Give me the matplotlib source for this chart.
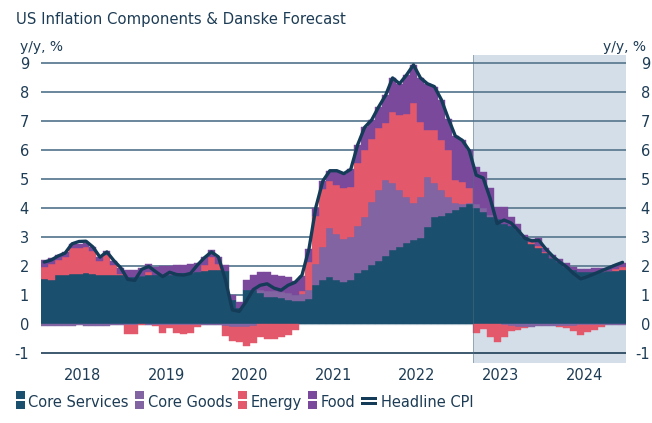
import numpy as np
import matplotlib
matplotlib.use('Agg')
import matplotlib.pyplot as plt
from matplotlib.patches import Rectangle

plt.rcParams['font.family'] = 'DejaVu Sans'
plt.rcParams['axes.unicode_minus'] = False

# monthly contributions, pp, Jan 2018 - Dec 2024 (forecast from Mar 2023)
years = ['2018', '2019', '2020', '2021', '2022', '2023', '2024']

core_services = [1.55, 1.53, 1.72, 1.72, 1.74, 1.75, 1.76, 1.74, 1.72, 1.70, 1.72, 1.72,
                 1.64, 1.64, 1.68, 1.70, 1.70, 1.70, 1.72, 1.74, 1.76, 1.78, 1.80, 1.84,
                 1.87, 1.87, 1.85, 0.85, 0.55, 1.18, 1.20, 1.10, 0.95, 0.95, 0.90, 0.85,
                 0.80, 0.82, 0.88, 1.36, 1.53, 1.64, 1.53, 1.48, 1.53, 1.76, 1.87, 2.04,
                 2.20, 2.35, 2.56, 2.68, 2.82, 2.91, 2.97, 3.37, 3.71, 3.75, 3.85, 3.94,
                 4.06, 4.15, 4.00, 3.88, 3.71, 3.62, 3.48, 3.39, 3.25, 3.00, 2.79, 2.62,
                 2.45, 2.28, 2.14, 1.99, 1.87, 1.81, 1.81, 1.81, 1.82, 1.83, 1.85, 1.87]

core_goods = [-0.06, -0.06, -0.06, -0.05, -0.04, -0.03, -0.04, -0.07, -0.06, -0.05, -0.03, -0.03,
              -0.02, -0.02, 0.00, -0.02, -0.02, -0.03, -0.02, -0.01, -0.02, -0.02, -0.03, -0.02,
              -0.03, -0.03, -0.05, -0.08, -0.10, -0.10, -0.05, 0.10, 0.20, 0.20, 0.22, 0.25,
              0.22, 0.22, 0.32, 0.74, 1.15, 1.67, 1.60, 1.47, 1.47, 1.64, 1.84, 2.19,
              2.43, 2.63, 2.30, 1.95, 1.58, 1.26, 1.43, 1.72, 1.15, 0.88, 0.55, 0.23,
              0.08, 0.05, 0.15, 0.12, 0.05, 0.00, -0.03, -0.05, -0.08, -0.08, -0.08, -0.07,
              -0.06, -0.05, -0.05, -0.04, -0.04, -0.03, -0.03, -0.03, -0.03, -0.02, -0.02, -0.02]

energy = [0.44, 0.55, 0.50, 0.62, 0.88, 0.90, 0.92, 0.78, 0.45, 0.68, 0.33, 0.03,
          -0.30, -0.32, -0.03, 0.12, -0.05, -0.25, -0.12, -0.30, -0.32, -0.28, -0.05, 0.22,
          0.45, 0.20, -0.35, -0.50, -0.50, -0.65, -0.60, -0.45, -0.50, -0.50, -0.45, -0.35,
          -0.18, 0.12, 0.95, 1.65, 2.00, 1.62, 1.67, 1.75, 1.75, 2.15, 2.30, 2.18,
          2.13, 1.95, 2.47, 2.59, 2.87, 3.45, 2.59, 1.61, 1.84, 1.73, 1.60, 0.80,
          0.77, 0.49, -0.28, -0.15, -0.42, -0.62, -0.42, -0.17, -0.10, -0.05, 0.05, 0.10,
          0.05, 0.00, -0.05, -0.10, -0.18, -0.32, -0.24, -0.16, -0.07, 0.00, 0.05, 0.10]

food = [0.22, 0.20, 0.18, 0.16, 0.14, 0.14, 0.14, 0.15, 0.16, 0.15, 0.15, 0.20,
        0.22, 0.22, 0.25, 0.25, 0.28, 0.30, 0.30, 0.30, 0.30, 0.32, 0.32, 0.28,
        0.25, 0.27, 0.20, 0.15, 0.23, 0.35, 0.50, 0.60, 0.66, 0.55, 0.55, 0.55,
        0.48, 0.52, 0.45, 0.25, 0.27, 0.37, 0.50, 0.50, 0.60, 0.65, 0.79, 0.64,
        0.74, 0.97, 1.17, 1.08, 1.33, 1.33, 1.51, 1.60, 1.50, 1.39, 1.10, 1.53,
        1.44, 1.31, 1.28, 1.27, 0.93, 0.43, 0.57, 0.33, 0.22, 0.10, 0.12, 0.25,
        0.15, 0.12, 0.10, 0.12, 0.10, 0.10, 0.10, 0.12, 0.12, 0.13, 0.14, 0.15]

headline = [2.15, 2.22, 2.36, 2.46, 2.78, 2.86, 2.87, 2.67, 2.32, 2.50, 2.20, 1.95,
            1.55, 1.52, 1.90, 2.00, 1.82, 1.65, 1.80, 1.72, 1.70, 1.76, 2.05, 2.30,
            2.50, 2.33, 1.55, 0.50, 0.45, 0.80, 1.20, 1.35, 1.40, 1.25, 1.18, 1.35,
            1.45, 1.70, 2.60, 4.05, 4.95, 5.30, 5.30, 5.20, 5.35, 6.20, 6.80, 7.05,
            7.50, 7.90, 8.50, 8.30, 8.60, 8.95, 8.50, 8.30, 8.20, 7.75, 7.10, 6.50,
            6.35, 6.00, 5.15, 5.05, 4.35, 3.48, 3.60, 3.50, 3.25, 2.97, 2.88, 2.90,
            2.60, 2.35, 2.15, 1.98, 1.75, 1.57, 1.65, 1.75, 1.85, 1.95, 2.05, 2.14]

forecast_start = 2023 + 2 / 12

TXT = '#1d3c55'
c_serv, c_goods, c_energy, c_food, c_line = '#1b4f6e', '#8164a1', '#e4586c', '#7a499c', '#143c58'

W, H = 652, 423
fig = plt.figure(figsize=(W / 100, H / 100), dpi=100)
ax = fig.add_axes([40.7 / W, 1 - 363 / H, (626 - 40.7) / W, (363 - 55) / H])

n = len(headline)
x = 2018 + (np.arange(n) + 0.5) / 12

# forecast shading
ax.axvspan(forecast_start, 2025, color='#d4dee9', lw=0, zorder=0)

# grid
for v in range(1, 10):
    ax.axhline(v, color='#5e7d93', lw=1.3, zorder=1)
ax.axhline(0, color='#d3dae1', lw=1, zorder=1)
ax.axhline(-1, color=TXT, lw=1.2, zorder=1)

# stacked bars, positives up and negatives down
pos = np.zeros(n)
neg = np.zeros(n)
for vals, col in [(core_services, c_serv), (core_goods, c_goods), (energy, c_energy), (food, c_food)]:
    v = np.array(vals)
    bottom = np.where(v >= 0, pos, neg)
    ax.bar(x, v, width=1 / 12, bottom=bottom, color=col, edgecolor=col, linewidth=0.3, zorder=2)
    pos += np.clip(v, 0, None)
    neg += np.clip(v, None, 0)

ax.axvline(forecast_start, color='#4d6f88', lw=0.7, alpha=0.5, zorder=3)
ax.plot(x, headline, color=c_line, lw=2.4, zorder=4, solid_capstyle='round', solid_joinstyle='round')

ax.set_xlim(2018, 2025)
ax.set_ylim(-1.33, 9.29)
ax.set_xticks(np.arange(2018.5, 2025, 1))
ax.set_xticklabels(years)
ax.set_yticks(range(-1, 10))
ax.tick_params(axis='both', length=0, labelsize=10.5, labelcolor=TXT)
ax.tick_params(axis='x', pad=3.4)
ax.tick_params(axis='y', pad=8.4)
for s in ax.spines.values():
    s.set_visible(False)

ax2 = ax.twinx()
ax2.set_ylim(ax.get_ylim())
ax2.set_yticks(range(-1, 10))
ax2.tick_params(axis='y', length=0, labelsize=10.5, labelcolor=TXT, pad=17.3)
for lab in ax2.get_yticklabels():
    lab.set_horizontalalignment('right')
for s in ax2.spines.values():
    s.set_visible(False)

fig.text(16 / W, 1 - 24 / H, 'US Inflation Components & Danske Forecast', fontsize=10.7, color=TXT, va='baseline')
fig.text(19.5 / W, 1 - 51 / H, 'y/y, %', fontsize=10, color=TXT, va='baseline', ha='left')
fig.text(646 / W, 1 - 51 / H, 'y/y, %', fontsize=10, color=TXT, va='baseline', ha='right')

# legend, built item by item
renderer = fig.canvas.get_renderer()
xpos = 16
for label, col, kind in [('Core Services', c_serv, 'bar'), ('Core Goods', c_goods, 'bar'),
                         ('Energy', c_energy, 'bar'), ('Food', c_food, 'bar'),
                         ('Headline CPI', c_line, 'line')]:
    if kind == 'bar':
        iw = 9
        fig.add_artist(Rectangle((xpos / W, 1 - 399 / H), iw / W, 8 / H, transform=fig.transFigure, color=col, lw=0))
        fig.add_artist(Rectangle((xpos / W, 1 - 409 / H), iw / W, 8 / H, transform=fig.transFigure, color=col, lw=0))
    else:
        iw = 16
        fig.add_artist(Rectangle((xpos / W, 1 - 400 / H), iw / W, 3.5 / H, transform=fig.transFigure, color=col, lw=0))
        fig.add_artist(Rectangle((xpos / W, 1 - 405 / H), iw / W, 3.5 / H, transform=fig.transFigure, color=col, lw=0))
    t = fig.text((xpos + iw + 3.5) / W, 1 - 406.5 / H, label, fontsize=10.5, color=TXT, va='baseline')
    bb = t.get_window_extent(renderer=renderer)
    xpos = bb.x1 + 6

fig.savefig('out.png', dpi=100)
